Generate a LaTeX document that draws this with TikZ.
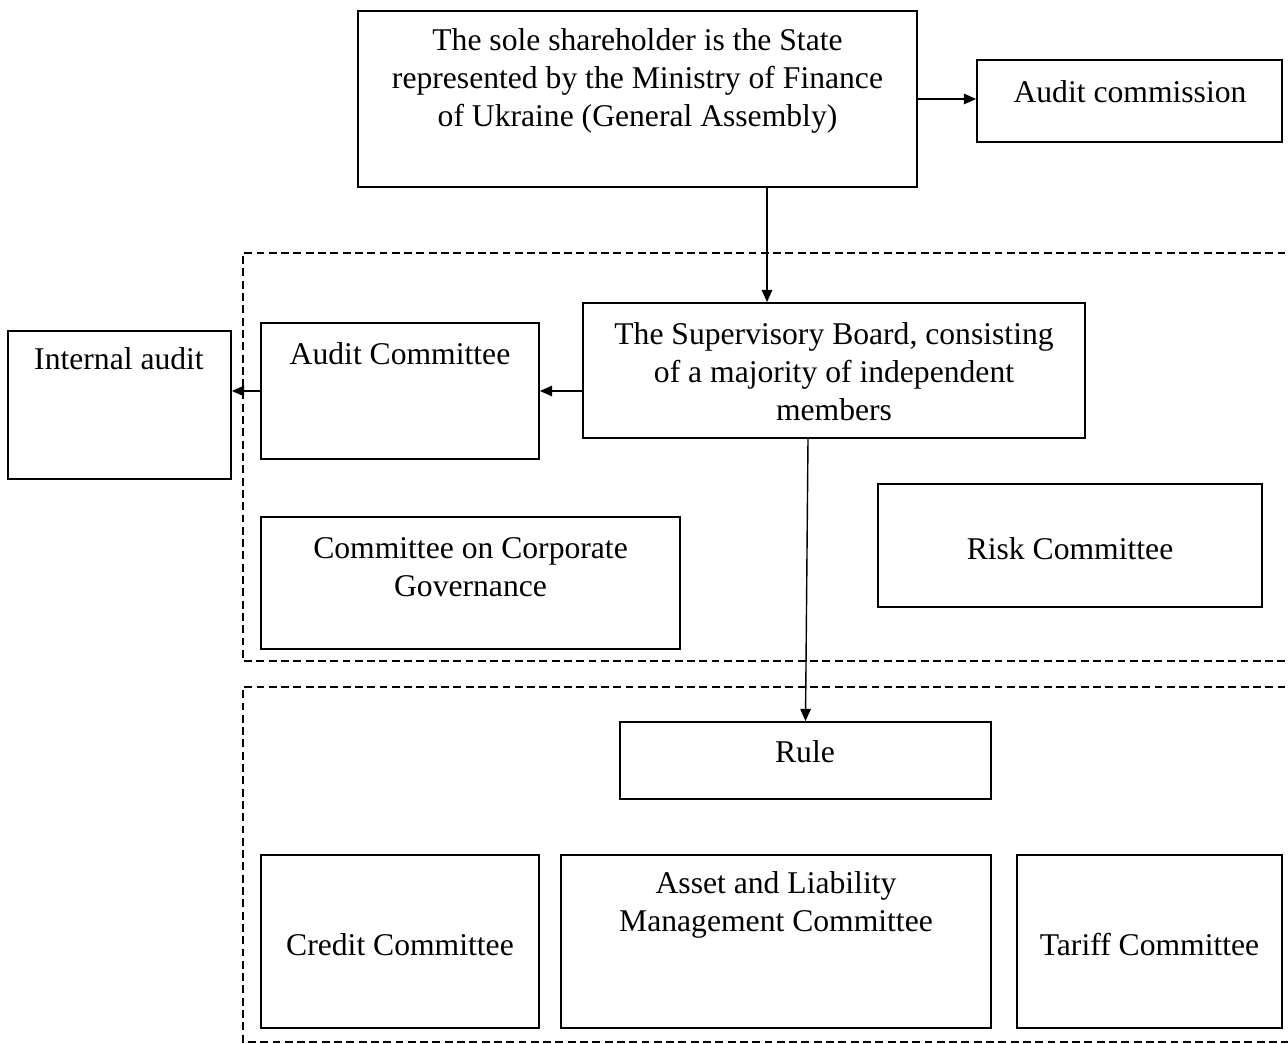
\documentclass[tikz,border=0pt]{standalone}
\usepackage{fontspec}
\setmainfont{Liberation Serif}
\usetikzlibrary{arrows.meta,calc}
\begin{document}
\begin{tikzpicture}[box/.style={draw,line width=1pt,inner sep=0pt},
		txt/.style={align=center,inner sep=0pt,font=\fontsize{18}{21.6}\selectfont},
		arr/.style={line width=0.8pt,-{Triangle[length=7pt,width=6pt]}},
		zone/.style={line width=1pt,dash pattern=on 4.5pt off 2.5pt}]
	\useasboundingbox (0,0) rectangle (25.76,-20.88);
	% dashed zones, open on the right
	\draw[zone] (26.2,-5.06) -- (4.86,-5.06) -- (4.86,-13.22) -- (26.2,-13.22);
	\draw[zone] (26.2,-13.74) -- (4.86,-13.74) -- (4.86,-20.84) -- (26.2,-20.84);
	% boxes
	\foreach \n/\x/\y/\w/\h in {sh/12.75/-1.98/11.18/3.52, ac/22.59/-2.02/6.1/1.64,
			sb/16.68/-7.41/10.04/2.7, acm/8.0/-7.82/5.56/2.72, ia/2.39/-8.1/4.46/2.96,
			cg/9.41/-11.66/8.38/2.64, rc/21.4/-10.91/7.68/2.46, rule/16.11/-15.21/7.42/1.54,
			cc/8.0/-18.83/5.56/3.46, al/15.52/-18.83/8.6/3.46, tc/22.99/-18.83/5.3/3.46}
		\node[box,minimum width=\w cm,minimum height=\h cm] (\n) at (\x,\y) {};
	% texts
	\node[txt] (sht) at (12.75,-1.62) {The sole shareholder is the State\\represented by the Ministry of Finance\\of Ukraine (General Assembly)};
	\node[txt] (act) at (22.6,-1.84) {Audit commission};
	\node[txt] (sbt) at ([yshift=-0.02cm]sb) {The Supervisory Board, consisting\\of a majority of independent\\members};
	\node[txt] (acmt) at (8.0,-7.08) {Audit Committee};
	\node[txt] (iat) at (2.38,-7.18) {Internal audit};
	\node[txt] (cgt) at (9.41,-11.35) {Committee on Corporate\\Governance};
	\node[txt] (rct) at (21.4,-10.97) {Risk Committee};
	\node[txt] (rulet) at (16.1,-15.04) {Rule};
	\node[txt] (cct) at (8.0,-18.9) {Credit Committee};
	\node[txt] (alt) at (15.52,-18.1) {Asset and Liability\\Management Committee};
	\node[txt] (tct) at (22.99,-18.9) {Tariff Committee};
	% connectors
	\draw[arr] (sh.east) -- (sh.east -| ac.west);
	\draw[arr] ([xshift=2.59cm]sh.south) -- ([xshift=2.59cm]sh.south |- sb.north);
	\draw[arr] (sb.west |- acm.east) -- (acm.east);
	\draw[arr] (acm.west) -- (acm.west -| ia.east);
	\draw[arr] ([xshift=-0.52cm]sb.south) -- (rule.north);
\end{tikzpicture}
\end{document}
